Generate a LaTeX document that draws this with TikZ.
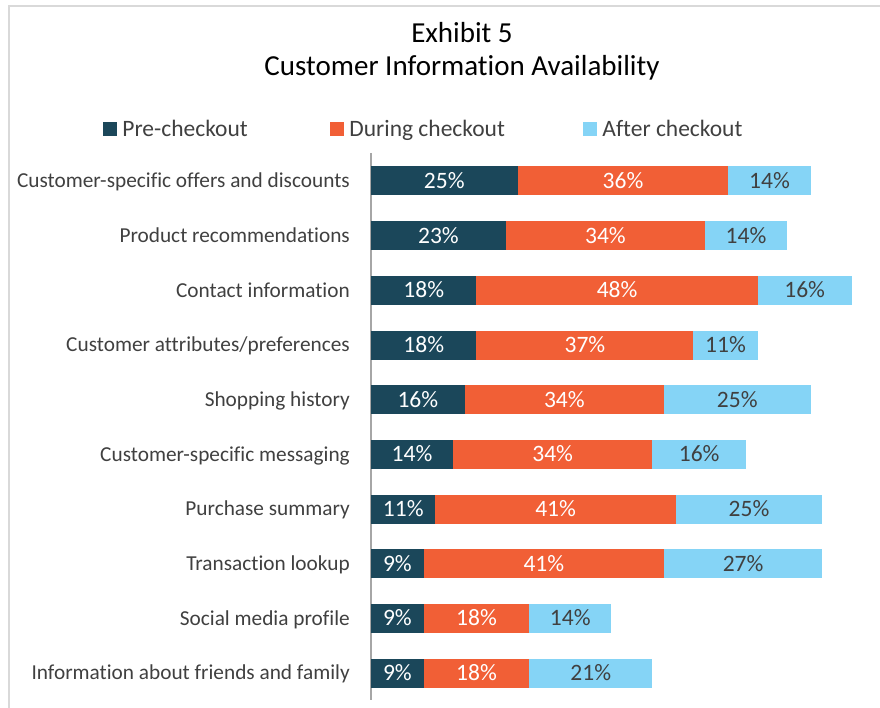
\documentclass[tikz,border=0pt]{standalone}
\usepackage{fontspec}
\setmainfont{Carlito}[Ligatures=NoCommon]
\usetikzlibrary{positioning}
\definecolor{precol}{HTML}{1B475A}
\definecolor{durcol}{HTML}{F15F36}
\definecolor{aftcol}{HTML}{85D4F6}
\definecolor{txtcol}{HTML}{404040}
\definecolor{framecol}{HTML}{D9D9D9}
\definecolor{axiscol}{HTML}{A6A6A6}
\tikzset{
  bar/.style={inner sep=0pt, outer sep=0pt, minimum height=29pt, text height=15pt, text depth=0pt, font=\fontsize{23.5}{25}\selectfont},
  pre/.style={bar, fill=precol, text=white, minimum width=#1*5.86pt},
  dur/.style={bar, fill=durcol, text=white, minimum width=#1*5.86pt},
  aft/.style={bar, fill=aftcol, text=txtcol, minimum width=#1*5.86pt},
  lab/.style={text=txtcol, inner sep=0pt, text height=13.5pt, text depth=0pt, font=\fontsize{21.3}{23}\selectfont},
  key/.style={minimum size=14pt, inner sep=0pt},
  keytext/.style={text=txtcol, inner sep=0pt, text height=15pt, text depth=0pt, font=\fontsize{23.5}{25}\selectfont}
}
\begin{document}
\begin{tikzpicture}[x=1pt,y=-1pt]
\useasboundingbox (0,0) rectangle (880,708);
\draw[framecol, line width=1.5pt] (9,708) -- (9,6) -- (880,6);
% title
\node[font=\fontsize{29}{31}\selectfont] (title1) at (462,33) {Exhibit 5};
\node[font=\fontsize{29}{31}\selectfont] (title2) at (462,68) {Customer Information Availability};
% legend
\node[key, fill=precol] (kpre) at (110,129) {};
\node[keytext, right=5pt of kpre] (tpre) {Pre-checkout};
\node[key, fill=durcol] (kdur) at (337,129) {};
\node[keytext, right=5pt of kdur] (tdur) {During checkout};
\node[key, fill=aftcol] (kaft) at (590,129) {};
\node[keytext, right=5pt of kaft] (taft) {After checkout};
% axis
\coordinate (axtop) at (371,153);
\coordinate (axbot) at (371,700);
\draw[axiscol, line width=1.3pt] (axtop) -- (axbot);
% bars
\node[pre=25, anchor=west] (r1a) at (371,181) {25\%};
\node[dur=36, right=0pt of r1a] (r1b) {36\%};
\node[aft=14, right=0pt of r1b] (r1c) {14\%};
\node[pre=23, anchor=west] (r2a) at (371,235.7) {23\%};
\node[dur=34, right=0pt of r2a] (r2b) {34\%};
\node[aft=14, right=0pt of r2b] (r2c) {14\%};
\node[pre=18, anchor=west] (r3a) at (371,290.3) {18\%};
\node[dur=48, right=0pt of r3a] (r3b) {48\%};
\node[aft=16, right=0pt of r3b] (r3c) {16\%};
\node[pre=18, anchor=west] (r4a) at (371,345) {18\%};
\node[dur=37, right=0pt of r4a] (r4b) {37\%};
\node[aft=11, right=0pt of r4b] (r4c) {11\%};
\node[pre=16, anchor=west] (r5a) at (371,399.7) {16\%};
\node[dur=34, right=0pt of r5a] (r5b) {34\%};
\node[aft=25, right=0pt of r5b] (r5c) {25\%};
\node[pre=14, anchor=west] (r6a) at (371,454.3) {14\%};
\node[dur=34, right=0pt of r6a] (r6b) {34\%};
\node[aft=16, right=0pt of r6b] (r6c) {16\%};
\node[pre=11, anchor=west] (r7a) at (371,509) {11\%};
\node[dur=41, right=0pt of r7a] (r7b) {41\%};
\node[aft=25, right=0pt of r7b] (r7c) {25\%};
\node[pre=9, anchor=west] (r8a) at (371,563.7) {9\%};
\node[dur=41, right=0pt of r8a] (r8b) {41\%};
\node[aft=27, right=0pt of r8b] (r8c) {27\%};
\node[pre=9, anchor=west] (r9a) at (371,618.3) {9\%};
\node[dur=18, right=0pt of r9a] (r9b) {18\%};
\node[aft=14, right=0pt of r9b] (r9c) {14\%};
\node[pre=9, anchor=west] (r10a) at (371,673) {9\%};
\node[dur=18, right=0pt of r10a] (r10b) {18\%};
\node[aft=21, right=0pt of r10b] (r10c) {21\%};
% category labels
\node[lab, left=21pt of r1a] (l1) {Customer-specific offers and discounts};
\node[lab, left=21pt of r2a] (l2) {Product recommendations};
\node[lab, left=21pt of r3a] (l3) {Contact information};
\node[lab, left=21pt of r4a] (l4) {Customer attributes/preferences};
\node[lab, left=21pt of r5a] (l5) {Shopping history};
\node[lab, left=21pt of r6a] (l6) {Customer-specific messaging};
\node[lab, left=21pt of r7a] (l7) {Purchase summary};
\node[lab, left=21pt of r8a] (l8) {Transaction lookup};
\node[lab, left=21pt of r9a] (l9) {Social media profile};
\node[lab, left=21pt of r10a] (l10) {Information about friends and family};
\end{tikzpicture}
\end{document}
